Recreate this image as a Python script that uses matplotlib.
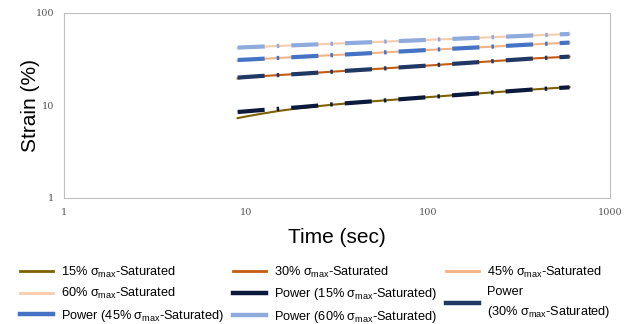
import matplotlib.pyplot as plt
from matplotlib.lines import Line2D
from matplotlib.ticker import FixedLocator, FixedFormatter

t = [9, 10, 12, 15, 20, 30, 50, 100, 200, 400, 600]

s15 = [7.3, 7.6, 8.1, 8.7, 9.4, 10.2, 11.1, 12.3, 13.6, 15.0, 15.8]
s30 = [19.6, 20.1, 20.7, 21.3, 22.0, 23.2, 24.7, 27.0, 29.6, 32.4, 33.7]
s45 = [30.5, 31.1, 31.8, 32.6, 33.6, 35.0, 36.9, 39.8, 42.7, 46.0, 47.8]
s60 = [41.8, 42.4, 43.1, 44.0, 45.0, 46.5, 48.4, 51.2, 54.1, 57.4, 59.3]

p15 = [8.5, 8.63, 8.9, 9.2, 9.6, 10.3, 11.1, 12.3, 13.6, 15.0, 15.7]
p30 = [20.0, 20.3, 20.8, 21.3, 22.0, 23.2, 24.7, 27.0, 29.6, 32.4, 33.7]
p45 = [31.0, 31.3, 31.9, 32.6, 33.6, 35.0, 36.9, 39.8, 42.7, 46.0, 47.8]
p60 = [42.2, 42.6, 43.2, 44.0, 45.0, 46.5, 48.4, 51.2, 54.1, 57.4, 59.3]

sig = r'$\sigma_{\mathregular{max}}$'
lab_data = ['15% ' + sig + '-Saturated', '30% ' + sig + '-Saturated',
            '45% ' + sig + '-Saturated', '60% ' + sig + '-Saturated']
lab_fit = ['Power (15% ' + sig + '-Saturated)', 'Power\n(30% ' + sig + '-Saturated)',
           'Power (45% ' + sig + '-Saturated)', 'Power (60% ' + sig + '-Saturated)']

plt.rcParams['font.family'] = ['Liberation Sans', 'DejaVu Sans']
plt.rcParams['mathtext.fontset'] = 'custom'
plt.rcParams['mathtext.rm'] = 'Liberation Sans'
plt.rcParams['mathtext.it'] = 'Liberation Sans'

fig = plt.figure(figsize=(6.3, 3.24), dpi=100)
ax = fig.add_axes([0.1016, 0.389, 0.8664, 0.571])

data_cols = ['#7F6000', '#C55A11', '#F4B183', '#F8CBAD']
fit_cols = ['#0B1A3C', '#1F3864', '#4472C4', '#8FAADC']
dash = (0, (6.5, 2.9, 0.6, 2.9))

h = {}
for y, c, l in zip([s15, s30, s45, s60], data_cols, lab_data):
    ax.plot(t, y, color=c, lw=1.5, zorder=2)
    h[l] = Line2D([], [], color=c, lw=2)
for y, c, l in zip([p15, p30, p45, p60], fit_cols, lab_fit):
    ax.plot(t, y, color=c, lw=3, ls=dash, zorder=3)
    h[l] = Line2D([], [], color=c, lw=3.2)

ax.set_xscale('log')
ax.set_yscale('log')
ax.set_xlim(1, 1000)
ax.set_ylim(1, 100)
ax.xaxis.set_major_locator(FixedLocator([1, 10, 100, 1000]))
ax.xaxis.set_major_formatter(FixedFormatter(['1', '10', '100', '1000']))
ax.yaxis.set_major_locator(FixedLocator([1, 10, 100]))
ax.yaxis.set_major_formatter(FixedFormatter(['1', '10', '100']))
ax.minorticks_off()
ax.tick_params(length=0, labelsize=7, labelcolor='#595959', pad=7)
for lb in ax.get_xticklabels() + ax.get_yticklabels():
    lb.set_family('DejaVu Serif')
for sp in ax.spines.values():
    sp.set_color('#BFBFBF')

ax.set_xlabel('Time (sec)', fontsize=15, labelpad=8)
ax.set_ylabel('Strain (%)', fontsize=15, labelpad=-3)

order = [lab_data[0], lab_data[3], lab_fit[2],
         lab_data[1], lab_fit[0], lab_fit[3],
         lab_data[2], lab_fit[1]]
leg = fig.legend([h[k] for k in order], order, ncol=3, loc='upper center',
                 bbox_to_anchor=(0.5, 0.183), frameon=False, fontsize=9.2,
                 handlelength=2.6, handletextpad=0.6, columnspacing=0.7,
                 labelspacing=0.5, borderpad=0, borderaxespad=0)
for tx in leg.get_texts():
    if '\n' in tx.get_text():
        tx.set_linespacing(1.5)

fig.savefig('out.png', dpi=100)
